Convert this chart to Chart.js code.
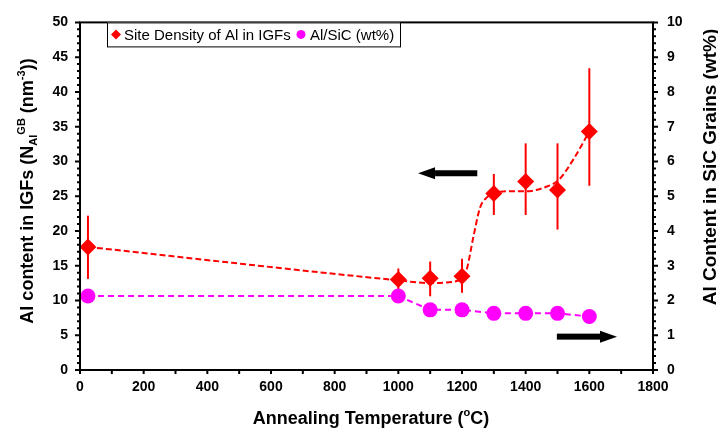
<!DOCTYPE html>
<html><head><meta charset="utf-8">
<script src="https://cdn.jsdelivr.net/npm/chart.js@4/dist/chart.umd.min.js"></script>
<style>html,body{margin:0;padding:0;background:#fff;}#wrap{width:718px;height:433px;position:relative;}</style>
</head><body><div id="wrap"><canvas id="c" width="718" height="433"></canvas></div>
<script>
// ---- data ----
const temperatures = [25, 1000, 1100, 1200, 1300, 1400, 1500, 1600];
const siteDensity = [17.7, 13.0, 13.2, 13.5, 25.4, 27.1, 25.9, 34.3];
const siteDensityErrLow = [13.1, 11.6, 10.6, 11.1, 22.3, 22.3, 20.2, 26.5];
const siteDensityErrHigh = [22.2, 14.6, 15.6, 16.0, 28.2, 32.6, 32.6, 43.4];
const alSiC = [2.13, 2.13, 1.73, 1.73, 1.63, 1.63, 1.63, 1.54];
const fitTemps = [25, 1000, 1100, 1150, 1200, 1215, 1236, 1257, 1280, 1300, 1340, 1400, 1467, 1503, 1550, 1600];
const fitValues = [17.7, 12.9, 12.5, 12.6, 13.2, 14.5, 19.2, 23.4, 24.9, 25.4, 25.7, 25.7, 26.4, 27.3, 30.3, 34.3];
const xTicks = [0, 200, 400, 600, 800, 1000, 1200, 1400, 1600, 1800];
const yLeftTicks = [0, 5, 10, 15, 20, 25, 30, 35, 40, 45, 50];
const yRightTicks = [0, 1, 2, 3, 4, 5, 6, 7, 8, 9, 10];
const seriesLabels = ['Site Density of Al in IGFs', 'Al/SiC (wt%)'];

const RED = '#ff0000', MAG = '#ff00ff';
const FAM = '"Liberation Sans", Arial, sans-serif';

function drawRich(ctx, segs, x, y, angle, size) {
  ctx.save();
  ctx.translate(x, y);
  ctx.rotate(angle);
  ctx.textBaseline = 'alphabetic';
  ctx.textAlign = 'left';
  let total = 0;
  const small = Math.round(size * 0.62);
  segs.forEach(s => {
    ctx.font = 'bold ' + (s.m === 'n' ? size : small) + 'px ' + FAM;
    s.w = ctx.measureText(s.t).width;
    total += s.w;
  });
  let cx = -total / 2;
  segs.forEach(s => {
    ctx.font = 'bold ' + (s.m === 'n' ? size : small) + 'px ' + FAM;
    const dy = s.m === 'sub' ? size * 0.22 : (s.m === 'sup' ? -size * 0.45 : 0);
    ctx.fillStyle = '#000';
    ctx.fillText(s.t, cx, dy);
    cx += s.w;
  });
  ctx.restore();
}

function arrow(ctx, x1, x2, y) {
  // x1 = tail, x2 = tip
  ctx.save();
  ctx.fillStyle = '#000';
  const dir = x2 > x1 ? 1 : -1;
  const headLen = 17, shaft = 6, head = 12;
  const hb = x2 - dir * headLen;
  ctx.fillRect(Math.min(x1, hb), y - shaft / 2, Math.abs(hb - x1), shaft);
  ctx.beginPath();
  ctx.moveTo(x2, y);
  ctx.lineTo(hb, y - head / 2);
  ctx.lineTo(hb, y + head / 2);
  ctx.closePath();
  ctx.fill();
  ctx.restore();
}

const deco = {
  id: 'deco',
  beforeDatasetsDraw(chart) {
    const ctx = chart.ctx, xs = chart.scales.x, ys = chart.scales.y;
    ctx.save();
    ctx.strokeStyle = RED;
    ctx.lineWidth = 2;
    temperatures.forEach((t, i) => {
      const px = xs.getPixelForValue(t);
      ctx.beginPath();
      ctx.moveTo(px, ys.getPixelForValue(siteDensityErrLow[i]));
      ctx.lineTo(px, ys.getPixelForValue(siteDensityErrHigh[i]));
      ctx.stroke();
    });
    ctx.restore();
  },
  afterDraw(chart) {
    const ctx = chart.ctx, a = chart.chartArea;
    const xs = chart.scales.x, ys = chart.scales.y, y1 = chart.scales.y1;
    ctx.save();
    // frame
    ctx.strokeStyle = '#000';
    ctx.lineWidth = 2;
    ctx.strokeRect(a.left, a.top, a.right - a.left, a.bottom - a.top);
    // tick marks
    ctx.beginPath();
    for (let v = 0; v <= 50; v++) {
      const p = ys.getPixelForValue(v);
      const len = v % 5 === 0 ? 5 : 3;
      ctx.moveTo(a.left - len, p); ctx.lineTo(a.left, p);
    }
    for (let k = 0; k <= 50; k++) {
      const p = y1.getPixelForValue(k / 5);
      const len = k % 5 === 0 ? 5 : 3;
      ctx.moveTo(a.right, p); ctx.lineTo(a.right + len, p);
    }
    for (let v = 0; v <= 1800; v += 100) {
      const p = xs.getPixelForValue(v);
      ctx.moveTo(p, a.bottom); ctx.lineTo(p, a.bottom + 4);
    }
    ctx.stroke();
    // arrows
    arrow(ctx, xs.getPixelForValue(1248), xs.getPixelForValue(1062), ys.getPixelForValue(28.3));
    arrow(ctx, xs.getPixelForValue(1498), xs.getPixelForValue(1687), y1.getPixelForValue(0.96));
    // legend
    const lx = a.left + 27, ly = a.top, lw = 293, lh = 24;
    ctx.fillStyle = '#fff';
    ctx.fillRect(lx, ly, lw, lh);
    ctx.lineWidth = 1;
    ctx.strokeStyle = '#000';
    ctx.strokeRect(lx + 0.5, ly + 0.5, lw, lh);
    const cy = ly + 12;
    ctx.fillStyle = RED;
    ctx.beginPath();
    ctx.moveTo(lx + 9, cy - 5); ctx.lineTo(lx + 14, cy); ctx.lineTo(lx + 9, cy + 5); ctx.lineTo(lx + 4, cy);
    ctx.closePath(); ctx.fill();
    ctx.fillStyle = MAG;
    ctx.beginPath(); ctx.arc(lx + 194, cy, 4.5, 0, Math.PI * 2); ctx.fill();
    ctx.fillStyle = '#000';
    ctx.font = '15px ' + FAM;
    ctx.textBaseline = 'middle';
    ctx.textAlign = 'left';
    ctx.fillText(seriesLabels[0], lx + 17, cy + 1);
    ctx.fillText(seriesLabels[1], lx + 203, cy + 1);
    ctx.restore();
    // axis titles
    drawRich(ctx, [{t: 'Al content in IGFs (N', m: 'n'}, {t: 'Al', m: 'sub'}, {t: 'GB', m: 'sup'}, {t: ' (nm', m: 'n'}, {t: '-3', m: 'sup'}, {t: '))', m: 'n'}], 33, 191, -Math.PI / 2, 18);
    drawRich(ctx, [{t: 'Al Content in SiC Grains (wt%)', m: 'n'}], 716, 167, -Math.PI / 2, 19);
    drawRich(ctx, [{t: 'Annealing Temperature (', m: 'n'}, {t: 'o', m: 'sup'}, {t: 'C)', m: 'n'}], 371, 424, 0, 18);
  }
};

const tickFont = {family: FAM, size: 14, weight: 'bold'};
const plain = v => String(v);
new Chart(document.getElementById('c'), {
  type: 'scatter',
  data: {
    datasets: [
      {
        label: seriesLabels[0],
        data: temperatures.map((t, i) => ({x: t, y: siteDensity[i]})),
        yAxisID: 'y', showLine: false, pointStyle: 'rectRot', pointRadius: 8.5,
        backgroundColor: RED, borderColor: RED, borderWidth: 0
      },
      {
        label: seriesLabels[1],
        data: temperatures.map((t, i) => ({x: t, y: alSiC[i]})),
        yAxisID: 'y1', showLine: true, borderColor: MAG, borderWidth: 2, borderDash: [6, 4],
        pointStyle: 'circle', pointRadius: 7.5, pointBackgroundColor: MAG, pointBorderWidth: 0, backgroundColor: MAG
      },
      {
        label: 'fit',
        data: fitTemps.map((t, i) => ({x: t, y: fitValues[i]})),
        yAxisID: 'y', showLine: true, borderColor: RED, borderWidth: 2, borderDash: [6, 3],
        pointRadius: 0, cubicInterpolationMode: 'monotone'
      }
    ]
  },
  options: {
    responsive: false, animation: false, devicePixelRatio: 1,
    layout: {padding: {top: 13, left: 0, right: 0, bottom: 0}},
    plugins: {legend: {display: false}, tooltip: {enabled: false}},
    scales: {
      x: {
        type: 'linear', min: 0, max: 1800,
        afterBuildTicks: s => { s.ticks = xTicks.map(v => ({value: v})); },
        afterFit: s => { s.height = 63; },
        grid: {display: false, drawTicks: false}, border: {display: false},
        ticks: {font: tickFont, color: '#000', padding: 9, maxRotation: 0, autoSkip: false, callback: plain}
      },
      y: {
        type: 'linear', position: 'left', min: 0, max: 50,
        afterBuildTicks: s => { s.ticks = yLeftTicks.map(v => ({value: v})); },
        afterFit: s => { s.width = 80; },
        grid: {display: false, drawTicks: false}, border: {display: false},
        ticks: {font: tickFont, color: '#000', padding: 12, autoSkip: false, callback: plain}
      },
      y1: {
        type: 'linear', position: 'right', min: 0, max: 10,
        afterBuildTicks: s => { s.ticks = yRightTicks.map(v => ({value: v})); },
        afterFit: s => { s.width = 65; },
        grid: {display: false, drawTicks: false}, border: {display: false},
        ticks: {font: tickFont, color: '#000', padding: 14, autoSkip: false, callback: plain}
      }
    }
  },
  plugins: [deco]
});
</script></body></html>
